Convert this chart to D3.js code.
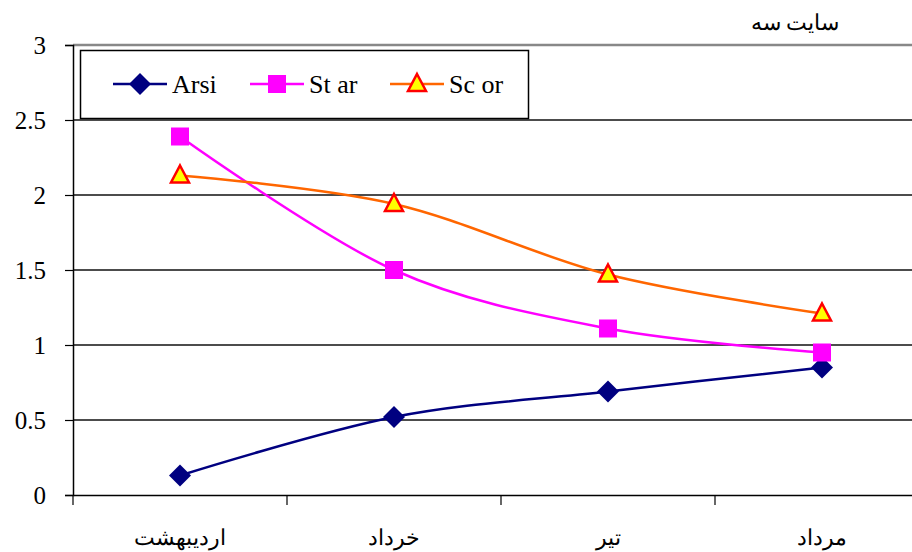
<!DOCTYPE html>
<html>
<head>
<meta charset="utf-8">
<script src="https://cdn.jsdelivr.net/npm/d3@7"></script>
<style>
  body { margin: 0; background: #fff; }
  text { font-family: "Liberation Serif", "DejaVu Serif", serif; }
</style>
</head>
<body>
<svg id="chart" width="912" height="552"></svg>
<script>
// data
var months = ["اردیبهشت", "خرداد", "تیر", "مرداد"];
var arsi = [0.13, 0.52, 0.69, 0.85];
var star = [2.39, 1.50, 1.11, 0.95];
var scor = [2.13, 1.94, 1.47, 1.21];
var seriesNames = ["Arsi", "St ar", "Sc or"];
var yTicks = [0, 0.5, 1, 1.5, 2, 2.5, 3];
var title = "سایت سه";

var svg = d3.select("#chart");

var plotLeft = 73, plotTop = 45, plotBottom = 495, plotRight = 929;

var x = d3.scaleBand().domain(months).range([plotLeft, plotRight]);
var y = d3.scaleLinear().domain([0, 3]).range([plotBottom, plotTop]);

// gridlines
svg.append("g").selectAll("line")
    .data(yTicks.filter(function(d) { return d > 0; }))
    .enter().append("line")
    .attr("x1", plotLeft).attr("x2", 912)
    .attr("y1", function(d) { return y(d); })
    .attr("y2", function(d) { return y(d); })
    .attr("stroke", function(d) { return d === 3 ? "#888" : "#111"; })
    .attr("stroke-width", function(d) { return d === 3 ? 2.5 : 1.3; });

// y axis
var yAxis = d3.axisLeft(y).tickValues(yTicks).tickSize(8).tickFormat(d3.format("~g"));
var gy = svg.append("g").attr("transform", "translate(" + plotLeft + ",0)").call(yAxis)
    .attr("font-family", null);
gy.select(".domain").attr("stroke", "#000").attr("stroke-width", 1.5);
gy.selectAll(".tick line").attr("stroke", "#000").attr("stroke-width", 1.2);
gy.selectAll(".tick text")
    .attr("x", -27)
    .attr("font-size", 25)
    .style("font-family", "'Liberation Serif', serif")
    .attr("fill", "#000");

// x axis
var xAxis = d3.axisBottom(x).tickSize(0).tickFormat("");
var gx = svg.append("g").attr("transform", "translate(0," + plotBottom + ")").call(xAxis);
gx.select(".domain").attr("stroke", "#000").attr("stroke-width", 1.5);

var edges = months.map(function(m) { return x(m); });
svg.append("g").selectAll("line")
    .data(edges)
    .enter().append("line")
    .attr("x1", function(d) { return d; }).attr("x2", function(d) { return d; })
    .attr("y1", plotBottom).attr("y2", plotBottom + 10)
    .attr("stroke", "#000").attr("stroke-width", 1.2);

svg.append("g").selectAll("text")
    .data(months)
    .enter().append("text")
    .attr("x", function(d) { return x(d) + x.bandwidth() / 2; })
    .attr("y", 537)
    .attr("dy", "0.35em")
    .attr("text-anchor", "middle")
    .attr("font-size", 22)
    .attr("fill", "#000")
    .text(function(d) { return d; });

// title
svg.append("text")
    .attr("x", 795).attr("y", 30)
    .attr("text-anchor", "middle")
    .attr("font-size", 22)
    .attr("fill", "#000")
    .text(title);

// series
var cx = function(d, i) { return x(months[i]) + x.bandwidth() / 2; };
var line = d3.line()
    .x(cx)
    .y(function(d) { return y(d); })
    .curve(d3.curveCardinal.tension(0));

var series = [
    { name: seriesNames[0], values: arsi, color: "#000080", shape: "diamond" },
    { name: seriesNames[1], values: star, color: "#FF00FF", shape: "square" },
    { name: seriesNames[2], values: scor, color: "#FF6600", shape: "triangle" }
];

function marker(g, shape) {
    if (shape === "diamond") {
        g.append("path").attr("d", "M0,-11L11,0L0,11L-11,0Z").attr("fill", "#000080");
    } else if (shape === "square") {
        g.append("rect").attr("x", -9).attr("y", -9).attr("width", 18).attr("height", 18)
            .attr("fill", "#FF00FF");
    } else {
        g.append("path").attr("d", "M0,-10L9,7L-9,7Z")
            .attr("fill", "#FFFF00").attr("stroke", "#FF0000").attr("stroke-width", 2.5)
            .attr("stroke-linejoin", "miter");
    }
}

series.forEach(function(s) {
    svg.append("path")
        .datum(s.values)
        .attr("d", line)
        .attr("fill", "none")
        .attr("stroke", s.color)
        .attr("stroke-width", 2.5);
});

series.forEach(function(s) {
    svg.append("g").selectAll("g")
        .data(s.values)
        .enter().append("g")
        .attr("transform", function(d, i) { return "translate(" + cx(d, i) + "," + y(d) + ")"; })
        .each(function() { marker(d3.select(this), s.shape); });
});

// legend
var legend = svg.append("g");
legend.append("rect")
    .attr("x", 80.5).attr("y", 50.5).attr("width", 448).attr("height", 68)
    .attr("fill", "#fff").attr("stroke", "#000").attr("stroke-width", 1.5);

var legX = [113, 250, 390];
series.forEach(function(s, i) {
    var g = legend.append("g").attr("transform", "translate(" + legX[i] + ",84)");
    g.append("line").attr("x1", 0).attr("x2", 54).attr("stroke", s.color).attr("stroke-width", 2.5);
    var m = g.append("g").attr("transform", "translate(27,0)");
    marker(m, s.shape);
    g.append("text")
        .attr("x", 59).attr("y", 0).attr("dy", "0.35em")
        .attr("font-size", 26).attr("fill", "#000")
        .text(s.name);
});
</script>
</body>
</html>
